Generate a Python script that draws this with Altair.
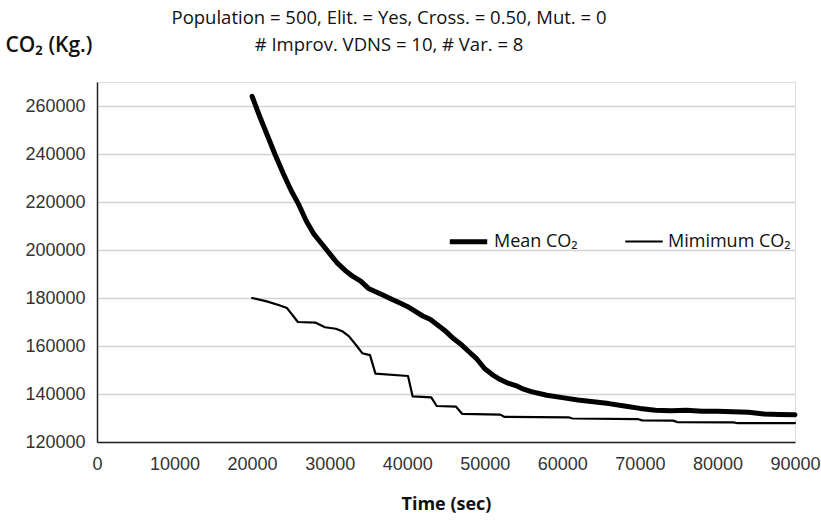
import altair as alt
import pandas as pd

series_names = ["Mean CO₂", "Mimimum CO₂"]

mean_time = [20000, 21000, 22000, 23000, 24000, 25000, 26000, 27000, 28000, 29000,
             30000, 31000, 32000, 33000, 34000, 35000, 36000, 37000, 38000, 39000,
             40000, 41000, 42000, 43000, 44000, 45000, 46000, 47000, 48000, 49000,
             50000, 51000, 52000, 53000, 54000, 55000, 56000, 58000, 60000, 62000,
             64000, 66000, 68000, 70000, 72000, 74000, 76000, 78000, 80000, 82000,
             84000, 86000, 88000, 90000]
mean_co2 = [264000, 255500, 247500, 239500, 232000, 225000, 219000, 212000, 206500, 202500,
            198500, 194500, 191500, 189000, 187000, 184000, 182500, 181000, 179500, 178000,
            176500, 174500, 172500, 171000, 168500, 166000, 163000, 160500, 157500, 154500,
            150500, 148000, 146000, 144500, 143500, 142000, 141000, 139500, 138500, 137500,
            136800, 136000, 135000, 134000, 133200, 133000, 133200, 132800, 132800, 132600,
            132400, 131700, 131500, 131400]

min_time = [20000, 22000, 23500, 24500, 25300, 25900, 28200, 29400, 30800, 31700,
            32500, 33500, 34200, 35200, 35900, 40100, 40700, 43100, 43800, 46300,
            47100, 52000, 52500, 60800, 61300, 69800, 70300, 74300, 74800, 82000,
            82500, 90000]
min_co2 = [180000, 178500, 177000, 175800, 172500, 170000, 169700, 167800, 167200, 166000,
           164000, 160000, 157000, 156200, 148500, 147500, 139000, 138600, 135000, 134700,
           131700, 131400, 130500, 130300, 129800, 129500, 129000, 128900, 128300, 128200,
           127900, 127900]

x_ticks = list(range(0, 90001, 10000))
y_ticks = list(range(120000, 260001, 20000))

df = pd.concat([
    pd.DataFrame({"time": mean_time, "co2": mean_co2, "series": series_names[0]}),
    pd.DataFrame({"time": min_time, "co2": min_co2, "series": series_names[1]}),
])

FONT = "Open Sans"
LABEL_FONT = "Liberation Sans"

legend = alt.Legend(
    title=None, orient="none", legendX=350, legendY=138, direction="horizontal",
    symbolType="stroke", symbolSize=1400, symbolStrokeColor="#000",
    labelFont=FONT, labelFontSize=18, labelColor="#111", labelOffset=4,
    columnPadding=42, symbolOffset=0,
)

chart = alt.Chart(df).mark_line(strokeJoin="round", strokeCap="round").encode(
    x=alt.X("time:Q", scale=alt.Scale(domain=[0, 90000], nice=False, zero=False),
            axis=alt.Axis(values=x_ticks, title="Time (sec)", grid=False, ticks=False,
                          format="d", labelFont=LABEL_FONT, labelFontSize=18,
                          labelColor="#333", labelPadding=13, domainColor="#222",
                          domainWidth=1.5, titleFont=FONT, titleFontSize=18,
                          titleFontWeight="bold", titleColor="#111", titlePadding=22,
                          labelFlush=False)),
    y=alt.Y("co2:Q", scale=alt.Scale(domain=[120000, 270000], nice=False, zero=False),
            axis=alt.Axis(values=y_ticks, title="CO₂ (Kg.)", grid=True, gridColor="#d4d4d4",
                          gridWidth=1.5, ticks=False, format="d", labelFont=LABEL_FONT,
                          labelFontSize=18, labelColor="#333", labelPadding=12,
                          domainColor="#222", domainWidth=1.5, titleFont=FONT,
                          titleFontSize=21, titleFontWeight=600, titleColor="#111",
                          titleAngle=0, titleAlign="left", titleBaseline="middle",
                          titleX=-92, titleY=-37)),
    color=alt.Color("series:N", scale=alt.Scale(domain=series_names, range=["#000", "#000"]),
                    legend=legend),
    strokeWidth=alt.StrokeWidth("series:N",
                                scale=alt.Scale(domain=series_names, range=[5, 2.2]),
                                legend=legend),
).properties(
    width=698, height=360,
    padding={"left": 97, "top": 82, "right": 26, "bottom": 79},
    autosize=alt.AutoSizeParams(type="none"),
    title=alt.TitleParams(
        ["Population = 500, Elit. = Yes, Cross. = 0.50, Mut. = 0",
         "# Improv. VDNS = 10, # Var. = 8"],
        font=FONT, fontSize=18.5, fontWeight="normal", color="#111", lineHeight=27,
        anchor="middle", dx=-57, dy=39, offset=0, baseline="bottom",
    ),
).configure_view(stroke=None).configure(background="white")

chart.save("out.html", embed_options={"renderer": "svg", "actions": False})
